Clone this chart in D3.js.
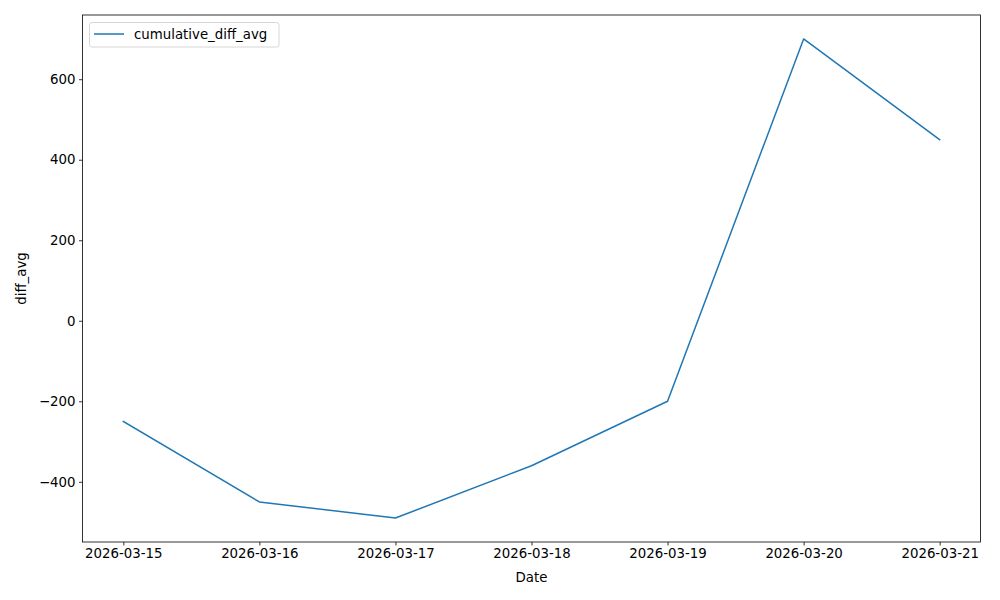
<!DOCTYPE html>
<html>
<head>
<meta charset="utf-8">
<script src="https://cdn.jsdelivr.net/npm/d3@7"></script>
<style>
  body { margin: 0; background: #fff; }
  svg { display: block; font-family: "DejaVu Sans", sans-serif; }
</style>
</head>
<body>
<svg id="chart" width="1000" height="600"></svg>
<script>
const dates = ["2026-03-15", "2026-03-16", "2026-03-17", "2026-03-18", "2026-03-19", "2026-03-20", "2026-03-21"];
const cumulativeDiffAvg = [-250, -450, -490, -360, -200, 700, 450];
const yTicks = [-400, -200, 0, 200, 400, 600];
const seriesName = "cumulative_diff_avg";

const W = 1000, H = 600;
const m = { left: 82.5, right: 19.5, top: 15, bottom: 58 };
const svg = d3.select("#chart");
const parse = d3.utcParse("%Y-%m-%d");
const data = dates.map((d, i) => ({ date: parse(d), value: cumulativeDiffAvg[i] }));

const xExt = d3.extent(data, d => d.date);
const xPad = (xExt[1] - xExt[0]) * 0.05;
const x = d3.scaleUtc()
  .domain([new Date(+xExt[0] - xPad), new Date(+xExt[1] + xPad)])
  .range([m.left, W - m.right]);

const yExt = d3.extent(cumulativeDiffAvg);
const yPad = (yExt[1] - yExt[0]) * 0.05;
const y = d3.scaleLinear()
  .domain([yExt[0] - yPad, yExt[1] + yPad])
  .range([H - m.bottom, m.top]);

const fontSize = 13.33;

// X axis
const xAxis = d3.axisBottom(x)
  .tickValues(data.map(d => d.date))
  .tickFormat(d3.utcFormat("%Y-%m-%d"))
  .tickSizeInner(3.5).tickSizeOuter(0).tickPadding(3.5);
const gx = svg.append("g").attr("transform", `translate(0,${H - m.bottom})`).call(xAxis);
gx.select(".domain").remove();
gx.selectAll("line").attr("stroke", "#000").attr("stroke-width", 0.8);
gx.selectAll("text").attr("font-size", fontSize).attr("fill", "#000").attr("font-family", "DejaVu Sans");

// Y axis
const yAxis = d3.axisLeft(y)
  .tickValues(yTicks)
  .tickFormat(d => d < 0 ? "\u2212" + Math.abs(d) : String(d))
  .tickSizeInner(3.5).tickSizeOuter(0).tickPadding(3.5);
const gy = svg.append("g").attr("transform", `translate(${m.left},0)`).call(yAxis);
gy.select(".domain").remove();
gy.selectAll("line").attr("stroke", "#000").attr("stroke-width", 0.8);
gy.selectAll("text").attr("font-size", fontSize).attr("fill", "#000").attr("font-family", "DejaVu Sans");

// Line
const line = d3.line().x(d => x(d.date)).y(d => y(d.value));
svg.append("path").datum(data)
  .attr("fill", "none")
  .attr("stroke", "#1f77b4")
  .attr("stroke-width", 1.5)
  .attr("stroke-linejoin", "round")
  .attr("stroke-linecap", "square")
  .attr("d", line);

// Frame
svg.append("rect")
  .attr("x", m.left).attr("y", m.top)
  .attr("width", W - m.left - m.right).attr("height", H - m.top - m.bottom)
  .attr("fill", "none").attr("stroke", "#000").attr("stroke-width", 0.8);

// Axis labels
svg.append("text").attr("x", (m.left + W - m.right) / 2).attr("y", 582)
  .attr("text-anchor", "middle").attr("font-size", fontSize).text("Date");
svg.append("text")
  .attr("transform", `translate(26,${(m.top + H - m.bottom) / 2}) rotate(-90)`)
  .attr("text-anchor", "middle").attr("font-size", fontSize).text("diff_avg");

// Legend
const lg = svg.append("g");
lg.append("rect").attr("x", 89.5).attr("y", 22.5).attr("width", 189.5).attr("height", 24.5)
  .attr("rx", 2.5).attr("fill", "#fff").attr("fill-opacity", 0.8)
  .attr("stroke", "#ccc").attr("stroke-width", 0.8);
lg.append("line").attr("x1", 94).attr("x2", 124).attr("y1", 34).attr("y2", 34)
  .attr("stroke", "#1f77b4").attr("stroke-width", 1.5);
lg.append("text").attr("x", 134).attr("y", 39).attr("font-size", fontSize).text(seriesName);
</script>
</body>
</html>
